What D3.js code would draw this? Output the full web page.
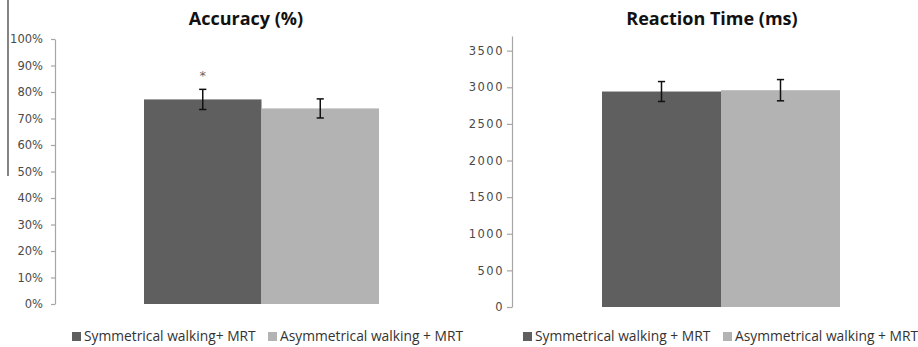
<!DOCTYPE html>
<html>
<head>
<meta charset="utf-8">
<script src="https://cdn.jsdelivr.net/npm/d3@7"></script>
<style>
  body { margin: 0; background: #fff; }
  svg { display: block; }
</style>
</head>
<body>
<svg id="chart" width="918" height="347"></svg>
<script>
// data
const conditions = ["Symmetrical walking + MRT", "Asymmetrical walking + MRT"];
const accuracyLegend = ["Symmetrical walking+ MRT", "Asymmetrical walking + MRT"];
const accuracyMean = [0.772, 0.738];
const accuracyErr = [0.038, 0.036];
const accuracyTicks = [0, 0.1, 0.2, 0.3, 0.4, 0.5, 0.6, 0.7, 0.8, 0.9, 1.0];
const rtMean = [2942, 2960];
const rtErr = [136, 145];
const rtTicks = [0, 500, 1000, 1500, 2000, 2500, 3000, 3500];
const significant = [true, false];
const barColors = ["#5f5f5f", "#b3b3b3"];

const svg = d3.select("#chart");

// stray rule at the far left of the original figure
svg.append("line")
    .attr("x1", 8).attr("x2", 8).attr("y1", 0).attr("y2", 176)
    .attr("stroke", "#333").attr("stroke-width", 1.2);

/**
 * Draw one panel: axis, bars, error bars, title and legend.
 */
function drawPanel(opts) {
    const g = svg.append("g");

    const y = d3.scaleLinear().domain(opts.domain).range([opts.bottom, opts.top]);
    const x = d3.scaleBand().domain(opts.keys).range(opts.barRange).padding(0);

    // y axis
    const axis = d3.axisLeft(y)
        .tickValues(opts.ticks)
        .tickFormat(opts.format)
        .tickSizeInner(opts.tickSize)
        .tickSizeOuter(0)
        .tickPadding(opts.tickPad);

    const ax = g.append("g")
        .attr("transform", `translate(${opts.axisX},0)`)
        .call(axis);
    ax.select(".domain").attr("stroke", "#a6a6a6").attr("stroke-width", 1.2);
    ax.selectAll(".tick line").attr("stroke", "#a6a6a6").attr("stroke-width", 1.2);
    ax.selectAll(".tick text")
        .attr("fill", "#4a4a4a")
        .style("font-family", "DejaVu Sans, Verdana, sans-serif")
        .style("font-size", opts.tickFont + "px")
        .style("letter-spacing", opts.tickSpacing + "px");

    // bars
    g.selectAll("rect.bar").data(opts.values).enter().append("rect")
        .attr("class", "bar")
        .attr("x", (d, i) => x(opts.keys[i]))
        .attr("width", x.bandwidth())
        .attr("y", d => y(d))
        .attr("height", d => y(opts.domain[0]) - y(d))
        .attr("fill", (d, i) => barColors[i]);

    // error bars
    const cap = 3.6;
    opts.values.forEach((v, i) => {
        const cx = x(opts.keys[i]) + x.bandwidth() / 2;
        const hi = y(v + opts.errors[i]), lo = y(v - opts.errors[i]);
        const eb = g.append("g").attr("stroke", "#111").attr("stroke-width", 1.5);
        eb.append("line").attr("x1", cx).attr("x2", cx).attr("y1", hi).attr("y2", lo);
        eb.append("line").attr("x1", cx - cap).attr("x2", cx + cap).attr("y1", hi).attr("y2", hi);
        eb.append("line").attr("x1", cx - cap).attr("x2", cx + cap).attr("y1", lo).attr("y2", lo);
        if (opts.stars && opts.stars[i]) {
            g.append("text")
                .attr("x", cx).attr("y", hi - 9)
                .attr("text-anchor", "middle")
                .attr("fill", "#666")
                .style("font-family", "DejaVu Sans, sans-serif")
                .style("font-size", "13px")
                .text("*");
        }
    });

    // title
    g.append("text")
        .attr("x", opts.titleX).attr("y", 25)
        .attr("text-anchor", "middle")
        .attr("fill", "#111")
        .style("font-family", "Open Sans, sans-serif")
        .style("font-weight", "bold")
        .style("font-size", "18px")
        .text(opts.title);

    // legend
    opts.legend.forEach((lab, i) => {
        const lx = opts.legendX[i];
        g.append("rect")
            .attr("x", lx).attr("y", 332)
            .attr("width", 9).attr("height", 9)
            .attr("fill", barColors[i]);
        g.append("text")
            .attr("x", lx + 12).attr("y", 341)
            .attr("fill", "#333")
            .style("font-family", "Open Sans, sans-serif")
            .style("font-size", "13.8px")
            .text(lab);
    });
}

drawPanel({
    keys: conditions,
    values: accuracyMean,
    errors: accuracyErr,
    stars: significant,
    domain: [0, 1],
    ticks: accuracyTicks,
    format: d3.format(".0%"),
    top: 39, bottom: 304,
    axisX: 55, tickSize: 4, tickPad: 8,
    tickFont: 11.5, tickSpacing: 0,
    barRange: [144, 379],
    title: "Accuracy (%)", titleX: 246,
    legend: accuracyLegend, legendX: [72, 268]
});

drawPanel({
    keys: conditions,
    values: rtMean,
    errors: rtErr,
    stars: null,
    domain: [0, 3700],
    ticks: rtTicks,
    format: d3.format("d"),
    top: 36, bottom: 307,
    axisX: 512, tickSize: 5, tickPad: 3,
    tickFont: 11.5, tickSpacing: 1.5,
    barRange: [602, 840],
    title: "Reaction Time (ms)", titleX: 712,
    legend: conditions, legendX: [523, 723]
});
</script>
</body>
</html>
